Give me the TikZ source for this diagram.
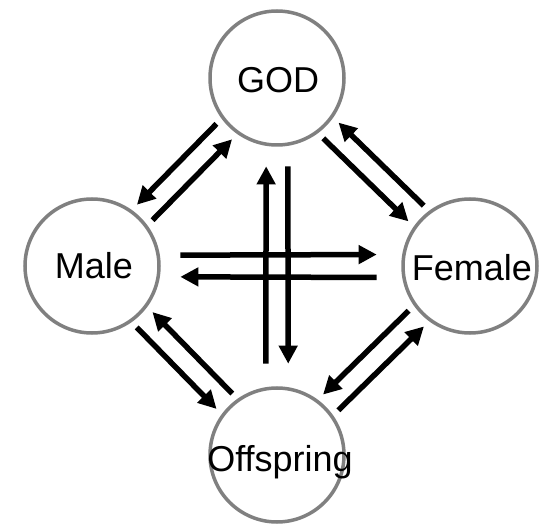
\documentclass[tikz,border=0pt]{standalone}
\usepackage{fontspec}
\setmainfont{Liberation Sans}
\usetikzlibrary{arrows.meta,calc}
\definecolor{circgray}{RGB}{128,128,128}
\begin{document}
\begin{tikzpicture}[x=1pt,y=-1pt,
  circ/.style={circle, draw=circgray, line width=3.5pt, minimum size=134pt, inner sep=0pt, fill=white},
  lbl/.style={anchor=base, font=\fontsize{36}{43}\selectfont, inner sep=0pt},
  arr/.style={line width=5.5pt, -{Triangle[length=18pt,width=18pt]}}]
\useasboundingbox (0,0) rectangle (547,524);
\fill[white] (0,0) rectangle (547,524);
% circles
\node[circ] (god)  at (277,78)  {};
\node[circ] (male) at (92,266)  {};
\node[circ] (fem)  at (470,266) {};
\node[circ] (off)  at (277,455) {};
% labels
\node[lbl] (godt)  at ([xshift=1pt,yshift=-15pt]god.center)  {GOD};
\node[lbl] (malet) at ([xshift=2pt,yshift=-13pt]male.center) {Male};
\node[lbl] (femt)  at ([xshift=2pt,yshift=-15pt]fem.center)  {Female};
\node[lbl] (offt)  at ([xshift=3pt,yshift=-16pt]off.center)  {Offspring};
% diagonal arrow pairs (right-hand side of travel)
\draw[arr] ($(god)!76pt!-8.3:(male)$) -- ($(male)!76pt!8.3:(god)$);
\draw[arr] ($(male)!76pt!-8.3:(god)$) -- ($(god)!76pt!8.3:(male)$);
\draw[arr] ($(god)!76pt!-8.3:(fem)$) -- ($(fem)!76pt!8.3:(god)$);
\draw[arr] ($(fem)!76pt!-8.3:(god)$) -- ($(god)!76pt!8.3:(fem)$);
\draw[arr] ($(fem)!76pt!-8.3:(off)$) -- ($(off)!76pt!8.3:(fem)$);
\draw[arr] ($(off)!76pt!-8.3:(fem)$) -- ($(fem)!76pt!8.3:(off)$);
\draw[arr] ($(off)!76pt!-8.3:(male)$) -- ($(male)!76pt!8.3:(off)$);
\draw[arr] ($(male)!76pt!-8.3:(off)$) -- ($(off)!76pt!8.3:(male)$);
% straight crossing arrows
\draw[arr] ($(off)!92pt!7:(god)$) -- ($(god)!89pt!-7:(off)$);
\draw[arr] ($(god)!89pt!7:(off)$) -- ($(off)!92pt!-7:(god)$);
\draw[arr] ($(male)!89pt!7:(fem)$) -- ($(fem)!94pt!-7:(male)$);
\draw[arr] ($(fem)!94pt!7:(male)$) -- ($(male)!89pt!-7:(fem)$);
\end{tikzpicture}
\end{document}
